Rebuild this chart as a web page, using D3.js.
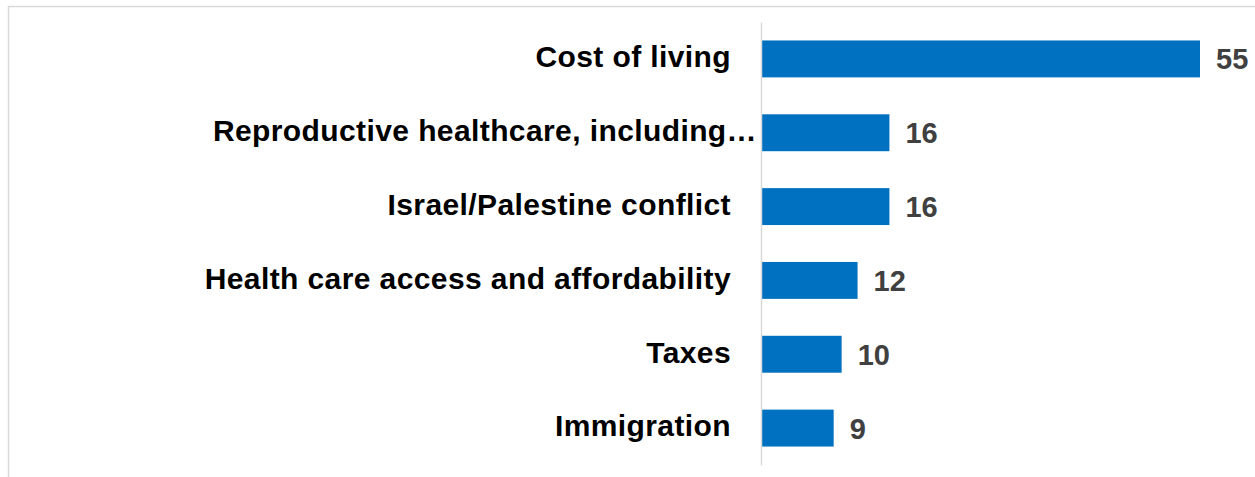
<!DOCTYPE html>
<html>
<head>
<meta charset="utf-8">
<script src="https://cdn.jsdelivr.net/npm/d3@7"></script>
<style>
  html, body { margin: 0; padding: 0; background: #fff; }
  svg { display: block; }
</style>
</head>
<body>
<div id="chart"></div>
<script>
// datos del grafico
const categories = [
  "Cost of living",
  "Reproductive healthcare, including…",
  "Israel/Palestine conflict",
  "Health care access and affordability",
  "Taxes",
  "Immigration"
];
const values = [55, 16, 16, 12, 10, 9];

const width = 1255;
const height = 477;

const svg = d3
  .select("#chart")
  .append("svg")
  .attr("width", width)
  .attr("height", height)
  .style("font-family", "'Liberation Sans', Arial, sans-serif");

// marco gris (solo se ven arriba e izquierda)
svg
  .append("rect")
  .attr("x", 8.5)
  .attr("y", 6.5)
  .attr("width", width + 20)
  .attr("height", height + 20)
  .attr("fill", "none")
  .attr("stroke", "#d9d9d9")
  .attr("stroke-width", 1.5);

const x = d3.scaleLinear().domain([0, 55]).range([762, 1200]);

const y = d3
  .scaleBand()
  .domain(categories)
  .range([22, 465])
  .paddingInner(0.5)
  .paddingOuter(0.25);

// barras
svg
  .append("g")
  .selectAll("rect")
  .data(values)
  .join("rect")
  .attr("x", x(0))
  .attr("y", (d, i) => y(categories[i]))
  .attr("width", (d) => x(d) - x(0))
  .attr("height", y.bandwidth())
  .attr("fill", "#0070c0");

// eje vertical
const axis = svg
  .append("g")
  .attr("transform", `translate(${x(0) - 1},0)`)
  .call(d3.axisLeft(y).tickSize(0).tickPadding(30).tickSizeOuter(0));

axis.select(".domain").attr("stroke", "#d9d9d9").attr("stroke-width", 1.5);
axis
  .selectAll(".tick text")
  .attr("fill", "#000")
  .attr("font-size", 30)
  .attr("font-weight", "bold")
  .attr("letter-spacing", "0.4px")
  .attr("font-family", "'Liberation Sans', Arial, sans-serif")
  .attr("dy", "0.28em")
  .attr("x", (d) => (d.endsWith("…") ? -4 : -30));

// etiquetas de valores
svg
  .append("g")
  .selectAll("text")
  .data(values)
  .join("text")
  .attr("x", (d) => x(d) + 16)
  .attr("y", (d, i) => y(categories[i]) + y.bandwidth() / 2)
  .attr("dy", "0.36em")
  .attr("fill", "#404040")
  .attr("font-size", 29)
  .attr("font-weight", "bold")
  .text((d) => d);
</script>
</body>
</html>
